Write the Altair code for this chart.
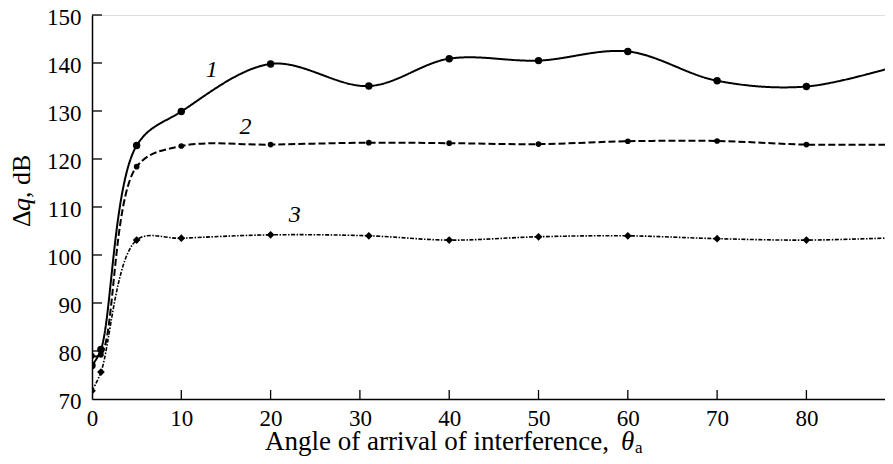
import altair as alt
import pandas as pd

# ---- data ----
angles = [0, 1, 5, 10, 20, 31, 40, 50, 60, 70, 80, 90]
curve1 = [77.0, 80.3, 122.8, 129.9, 139.8, 135.2, 140.9, 140.5, 142.4, 136.3, 135.1, 139.3]
curve2 = [79.0, 79.2, 118.4, 122.7, 123.0, 123.4, 123.3, 123.1, 123.7, 123.75, 123.0, 123.0]
curve3 = [71.7, 75.6, 103.1, 103.5, 104.2, 104.0, 103.1, 103.8, 104.0, 103.4, 103.1, 103.6]
series_names = ["1", "2", "3"]

x_tick_labels = [0, 10, 20, 30, 40, 50, 60, 70, 80]
y_tick_labels = [70, 80, 90, 100, 110, 120, 130, 140, 150]
x_tick_marks = [10, 20, 30, 40, 50, 60, 70, 80]
y_tick_marks = [80, 90, 100, 110, 120, 130, 140, 150]

label_x = [13.4, 17.2, 22.7]
label_y = [138.5, 126.7, 108.3]

x_title = "Angle of arrival of interference,"
y_title_parts = ["Δ", "q", ", dB"]

# ---- layout / style ----
W, H = 793, 384
XMAX = 88.8
FONT = "Liberation Serif"

rows = []
for name, vals in zip(series_names, [curve1, curve2, curve3]):
    for a, v in zip(angles, vals):
        rows.append({"angle": a, "dq": v, "series": name})
df = pd.DataFrame(rows)

xscale = alt.Scale(domain=[0, XMAX], nice=False, zero=False)
yscale = alt.Scale(domain=[70, 150], nice=False, zero=False)

common = dict(ticks=False, tickSize=0, labelFont=FONT, labelFontSize=23,
              labelColor="black", labelFlush=False, domainColor="black",
              domainWidth=1.5, grid=False, title="", labelOverlap=False)
xaxis = alt.Axis(values=x_tick_labels, labelPadding=8, **common)
yaxis = alt.Axis(values=y_tick_labels, labelPadding=11, labelOffset=2, **common)


def X(field):
    return alt.X(field, scale=xscale, axis=xaxis)


def Y(field):
    return alt.Y(field, scale=yscale, axis=yaxis)


styles = {
    "1": dict(width=2.0, dash=[1, 0], shape="circle", size=55),
    "2": dict(width=2.0, dash=[7, 3], shape="circle", size=32),
    "3": dict(width=1.6, dash=[4, 1.5, 1.5, 1.5], shape="diamond", size=60),
}

layers = []
for name in series_names:
    st = styles[name]
    sub = alt.Chart(df).transform_filter(alt.datum.series == name)
    line = sub.mark_line(interpolate="catmull-rom", clip=True, color="black",
                         strokeWidth=st["width"], strokeDash=st["dash"]).encode(
        x=X("angle:Q"), y=Y("dq:Q"))
    pts = sub.transform_filter(alt.datum.angle <= 80).mark_point(
        shape=st["shape"], size=st["size"], filled=True, color="black", opacity=1, clip=True
    ).encode(x=X("angle:Q"), y=Y("dq:Q"))
    layers += [line, pts]

xt = alt.Chart(pd.DataFrame({"t": x_tick_marks})).mark_rule(color="black", strokeWidth=1.3).encode(
    x=X("t:Q"), y=alt.value(H), y2=alt.value(H - 9))
yt = alt.Chart(pd.DataFrame({"t": y_tick_marks})).mark_rule(color="black", strokeWidth=1.3).encode(
    y=Y("t:Q"), x=alt.value(0), x2=alt.value(10))

labels = alt.Chart(pd.DataFrame({"lx": label_x, "ly": label_y, "txt": series_names})).mark_text(
    font=FONT, fontStyle="italic", fontSize=24, color="black").encode(
    x=X("lx:Q"), y=Y("ly:Q"), text="txt:N")

# axis titles as text (mixed italic / subscript)
xt1 = alt.Chart(pd.DataFrame({"s": [x_title]})).mark_text(
    font=FONT, fontSize=27, color="black", align="left", baseline="alphabetic").encode(
    x=alt.value(173), y=alt.value(435), text="s:N")
xt2 = alt.Chart(pd.DataFrame({"s": ["θ"]})).mark_text(
    font=FONT, fontSize=27, fontStyle="italic", color="black", align="left", baseline="alphabetic").encode(
    x=alt.value(529), y=alt.value(435), text="s:N")
xt3 = alt.Chart(pd.DataFrame({"s": ["a"]})).mark_text(
    font=FONT, fontSize=17, color="black", align="left", baseline="alphabetic").encode(
    x=alt.value(543), y=alt.value(438), text="s:N")

yparts = []
ypos = [212, 196, 183]
ystyles = ["normal", "italic", "normal"]
for txt, yp, fs in zip(y_title_parts, ypos, ystyles):
    yparts.append(alt.Chart(pd.DataFrame({"s": [txt]})).mark_text(
        font=FONT, fontSize=26, fontStyle=fs, color="black", align="left",
        baseline="middle", angle=270).encode(
        x=alt.value(-70), y=alt.value(yp), text="s:N"))

chart = alt.layer(*layers, xt, yt, labels, xt1, xt2, xt3, *yparts).properties(
    width=W, height=H,
    padding={"left": 84, "top": 7, "right": 0, "bottom": 57},
    autosize=alt.AutoSizeParams(type="none"),
).configure_view(stroke=None).configure_axis(
    labelFont=FONT, labelFontSize=23, labelColor="black"
).configure(font=FONT)

chart.save("out.html", embed_options={"renderer": "svg", "actions": False})
